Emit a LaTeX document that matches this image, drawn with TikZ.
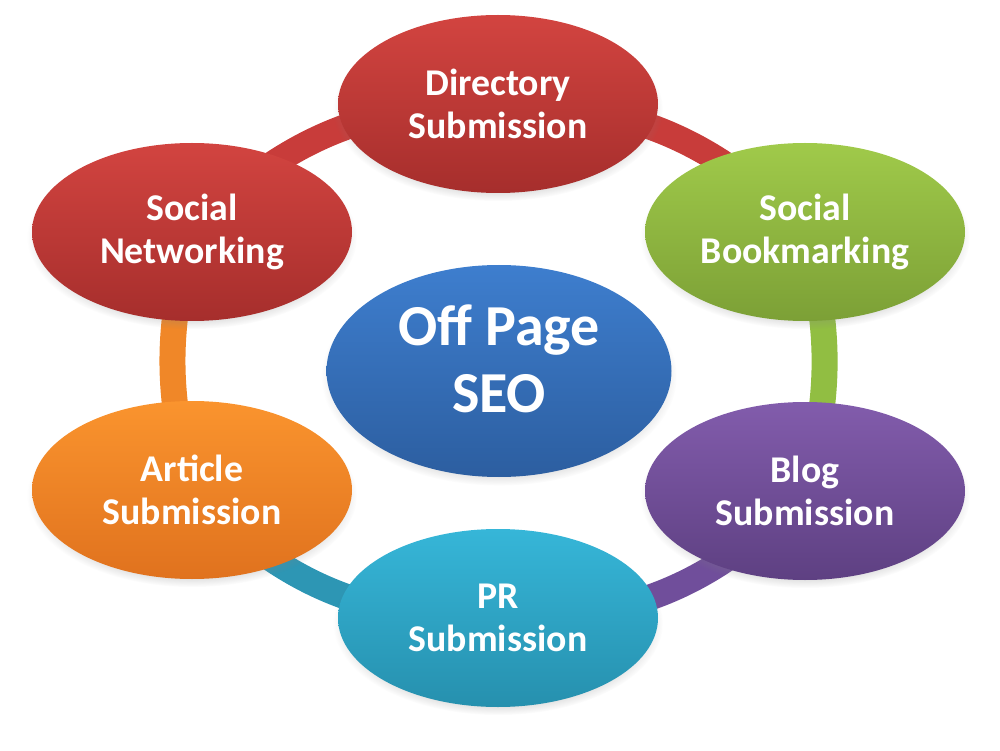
\documentclass[tikz,border=0pt]{standalone}
\usepackage{fontspec}
\setmainfont{Carlito}
\usetikzlibrary{shapes.geometric,shadows,backgrounds}
% fills of the bubbles (top / bottom of the shading)
\definecolor{redtop}{RGB}{210,68,64}
\definecolor{redbot}{RGB}{166,46,44}
\definecolor{greentop}{RGB}{160,202,74}
\definecolor{greenbot}{RGB}{124,160,54}
\definecolor{purpletop}{RGB}{130,92,172}
\definecolor{purplebot}{RGB}{94,64,130}
\definecolor{tealtop}{RGB}{54,182,216}
\definecolor{tealbot}{RGB}{38,144,174}
\definecolor{orangetop}{RGB}{250,148,46}
\definecolor{orangebot}{RGB}{224,114,30}
\definecolor{bluetop}{RGB}{62,126,206}
\definecolor{bluebot}{RGB}{44,94,160}
% colours of the ring
\definecolor{redring}{RGB}{200,60,58}
\definecolor{greenring}{RGB}{145,190,66}
\definecolor{purplering}{RGB}{112,78,155}
\definecolor{tealring}{RGB}{45,150,180}
\definecolor{orangering}{RGB}{240,135,40}
\begin{document}
\begin{tikzpicture}[
  bubble/.style={ellipse, minimum width=6.4cm, minimum height=3.56cm, inner sep=0pt,
    align=center, text=white, font=\fontsize{21.5}{24.5}\selectfont\bfseries,
    circular drop shadow={shadow xshift=0pt, shadow yshift=-3pt, shadow scale=1.03, opacity=0.35}},
  hub/.style={bubble, minimum width=6.9cm, minimum height=4.24cm, text depth=0.5cm,
    font=\fontsize{33}{38}\selectfont\bfseries},
  ring/.style={line width=0.52cm}]
\useasboundingbox (0,0) rectangle (20,15);
\node[hub, top color=bluetop, bottom color=bluebot] (seo) at (9.98,7.58) {Off Page\\SEO};
\node[bubble, top color=redtop, bottom color=redbot] (dir) at (9.96,12.92) {Directory\\Submission};
\node[bubble, top color=greentop, bottom color=greenbot] (sb) at (16.1,10.36) {Social\\Bookmarking};
\node[bubble, top color=purpletop, bottom color=purplebot] (blog) at (16.1,5.18) {Blog\\Submission};
\node[bubble, top color=tealtop, bottom color=tealbot] (pr) at (9.96,2.64) {PR\\Submission};
\node[bubble, top color=orangetop, bottom color=orangebot] (art) at (3.84,5.2) {Article\\Submission};
\node[bubble, top color=redtop, bottom color=redbot] (sn) at (3.84,10.36) {Social\\Networking};
% the ring behind the bubbles
\begin{scope}[on background layer]
\draw[ring, redring] (dir.center) to[bend left=23] (sb.center);
\draw[ring, greenring] (sb.center) to[bend left=15] (blog.center);
\draw[ring, purplering] (blog.center) to[bend left=24] (pr.center);
\draw[ring, tealring] (pr.center) to[bend left=24] (art.center);
\draw[ring, orangering] (art.center) to[bend left=15] (sn.center);
\draw[ring, redring] (sn.center) to[bend left=23] (dir.center);
\end{scope}
\end{tikzpicture}
\end{document}
